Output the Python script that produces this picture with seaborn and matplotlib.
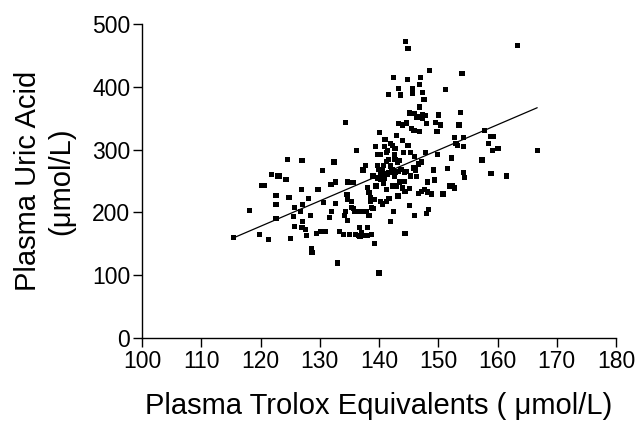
import numpy as np
import pandas as pd
import matplotlib
matplotlib.use("Agg")
import matplotlib.pyplot as plt
import seaborn as sns

trolox = [115.4, 118.1, 119.8, 120.2, 120.6, 121.3, 121.8, 122.6, 122.6, 122.6, 122.9, 123.2,
          124.3, 124.5, 124.8, 125.1, 125.6, 125.7, 125.7, 126.8, 126.9, 127.0, 127.1, 127.1,
          127.0, 127.6, 127.7, 128.1, 128.4, 128.6, 128.7, 129.5, 129.7, 130.2, 130.5, 130.7,
          130.9, 131.6, 131.9, 132.0, 132.4, 132.7, 132.7, 133.0, 133.4, 134.0, 134.2, 134.4,
          134.4, 134.6, 134.7, 134.7, 134.7, 135.0, 135.3, 135.4, 135.6, 135.7, 135.8, 136.2,
          136.0, 136.5, 136.7, 136.8, 136.8, 137.0, 137.3, 137.3, 137.7, 137.8, 138.0, 138.1,
          138.1, 138.3, 138.3, 138.6, 138.6, 138.7, 138.8, 139.0, 139.0, 139.2, 139.3, 139.4,
          139.5, 139.7, 139.7, 139.8, 140.0, 140.0, 140.1, 140.2, 140.2, 140.3, 140.3, 140.5,
          140.6, 140.8, 140.8, 140.9, 140.9, 141.0, 141.0, 141.2, 141.2, 141.3, 141.3, 141.4,
          141.5, 141.6, 141.6, 141.7, 141.7, 141.9, 142.0, 142.0, 142.2, 142.2, 142.3, 142.3,
          142.4, 142.4, 142.6, 142.6, 142.7, 142.7, 142.8, 142.9, 142.9, 143.1, 143.2, 143.2,
          143.3, 143.3, 143.5, 143.5, 143.6, 143.7, 143.9, 143.9, 144.0, 144.2, 144.3, 144.3,
          144.4, 144.4, 144.5, 144.6, 144.7, 144.8, 144.9, 144.9, 145.1, 145.1, 145.2, 145.3,
          145.3, 145.5, 145.6, 145.6, 145.8, 145.9, 145.9, 146.0, 146.0, 146.2, 146.3, 146.4,
          146.6, 146.6, 146.8, 146.8, 146.9, 147.0, 147.2, 147.2, 147.3, 147.3, 147.4, 147.6,
          147.7, 147.8, 147.8, 148.0, 148.0, 148.2, 148.2, 148.4, 148.5, 148.9, 149.2, 149.4,
          149.6, 149.8, 149.9, 150.1, 150.4, 150.8, 151.2, 151.6, 151.9, 152.2, 152.4, 152.7,
          152.8, 153.0, 153.3, 153.5, 153.8, 154.0, 154.2, 154.2, 154.3, 154.4, 157.4, 157.8,
          158.5, 158.8, 158.9, 159.1, 159.3, 160.1, 161.5, 163.4, 166.7]

uric = [159.6, 203.5, 164.9, 242.6, 242.6, 156.4, 260.0, 227.3, 213.0, 190.3, 257.9, 257.9,
        252.6, 284.4, 224.1, 158.6, 193.4, 207.2, 177.6, 201.9, 236.8, 282.8, 212.5, 185.0,
        175.5, 172.3, 162.8, 222.0, 195.6, 142.7, 136.4, 167.0, 236.8, 169.1, 266.9, 215.6,
        170.2, 191.3, 244.7, 200.8, 280.1, 248.4, 214.6, 119.5, 170.2, 164.9, 195.6, 343.6,
        201.9, 228.3, 248.4, 220.9, 186.6, 164.9, 217.8, 207.7, 247.4, 206.1, 200.8, 298.1,
        164.9, 162.8, 175.5, 201.9, 161.7, 168.1, 267.4, 163.8, 274.8, 200.8, 239.9, 175.5,
        163.8, 194.5, 231.5, 224.1, 217.8, 164.9, 207.2, 206.1, 257.9, 150.1, 220.9, 304.4,
        242.0, 274.8, 292.8, 254.7, 268.5, 103.6, 326.6, 217.8, 252.6, 291.8, 261.1, 267.4,
        213.5, 246.3, 274.8, 254.7, 305.5, 262.2, 316.1, 236.8, 281.2, 217.8, 294.9, 299.2,
        260.0, 387.9, 284.4, 263.2, 222.0, 185.0, 309.7, 273.8, 265.3, 268.5, 242.0, 306.6,
        414.4, 201.9, 292.8, 257.9, 301.3, 284.4, 263.2, 322.4, 242.0, 280.1, 265.3, 226.2,
        397.5, 341.4, 248.4, 282.2, 386.8, 268.5, 339.3, 238.9, 314.0, 294.9, 263.2, 249.5,
        233.6, 167.0, 471.5, 342.5, 265.3, 411.2, 460.9, 306.6, 237.8, 210.4, 358.4, 294.9,
        257.9, 334.0, 397.5, 390.1, 270.6, 357.3, 330.9, 195.6, 289.6, 267.4, 256.8, 352.0,
        230.5, 277.0, 403.8, 328.8, 367.9, 414.4, 280.1, 233.6, 391.1, 355.2, 349.9, 379.5,
        236.8, 294.9, 354.1, 197.7, 341.4, 248.4, 232.6, 204.0, 426.0, 229.4, 267.4, 251.6,
        343.6, 328.8, 292.8, 355.2, 339.3, 229.4, 395.3, 269.5, 242.0, 286.5, 243.1, 319.2,
        238.9, 309.7, 306.6, 339.3, 359.4, 421.8, 263.2, 305.5, 319.2, 255.8, 283.3, 330.9,
        309.7, 320.3, 262.2, 299.2, 320.3, 302.3, 257.9, 466.2, 298.1]

x_ticks = [100, 110, 120, 130, 140, 150, 160, 170, 180]
y_ticks = [0, 100, 200, 300, 400, 500]

df = pd.DataFrame({"trolox": trolox, "uric": uric})

sns.set_style("ticks")
plt.rcParams["font.family"] = ["Liberation Sans", "DejaVu Sans"]
plt.rcParams["text.color"] = "black"
plt.rcParams["axes.labelcolor"] = "black"

fig = plt.figure(figsize=(6.37, 4.25), dpi=100)
ax = fig.add_axes([142/637, 87/425, 474/637, 314/425])

sns.scatterplot(data=df, x="trolox", y="uric", marker="s", s=14, color="black",
                edgecolor="none", linewidth=0, ax=ax)
sns.regplot(data=df, x="trolox", y="uric", scatter=False, ci=None,
            line_kws={"color": "black", "linewidth": 0.9}, ax=ax)

ax.set_xlim(100, 180)
ax.set_ylim(0, 500)
ax.set_xticks(x_ticks)
ax.set_yticks(y_ticks)
ax.tick_params(direction="out", length=6.5, width=1, labelsize=16.5, colors="black",
               labelcolor="black", pad=2)
for side in ["left", "bottom"]:
    ax.spines[side].set_linewidth(1)
    ax.spines[side].set_color("black")
sns.despine(ax=ax)

ax.set_xlabel("Plasma Trolox Equivalents ( \u03bcmol/L)", fontsize=21, labelpad=14,
              color="black")
ax.set_ylabel("Plasma Uric Acid\n(\u03bcmol/L)", fontsize=21, labelpad=12, linespacing=1.25,
              color="black")

fig.savefig("out.png", dpi=100)
